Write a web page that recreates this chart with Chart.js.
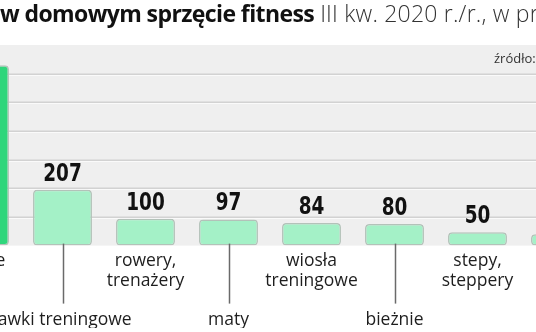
<!DOCTYPE html>
<html>
<head>
<meta charset="utf-8">
<script src="https://cdn.jsdelivr.net/npm/chart.js@4.4.0/dist/chart.umd.min.js"></script>
<style>
    html, body { margin: 0; padding: 0; background: #fff; }
    body { width: 536px; height: 332px; overflow: hidden; position: relative; }
    #title {
        position: absolute; left: 0; top: 1px; white-space: nowrap; z-index: 2;
        font-family: "Open Sans", sans-serif; font-size: 23px; line-height: 24px; color: #111;
    }
    #title b { font-weight: 700; letter-spacing: -0.6px; }
    #title span { font-weight: 300; color: #333; font-size: 23px; letter-spacing: 0.2px; }
    #source {
        position: absolute; left: 494px; top: 49px; white-space: nowrap; z-index: 2;
        font-family: "Open Sans", sans-serif; font-size: 13px; color: #333;
    }
    #wrap { position: absolute; left: -62px; top: 0; width: 664px; height: 328px; z-index: 1; }
</style>
</head>
<body>
<div id="title"><b>w domowym sprzęcie fitness</b> <span>III kw. 2020 r./r., w pr</span></div>
<div id="source">źródło:</div>
<div id="wrap"><canvas id="growthChart"></canvas></div>
<script>
    // Kategorie i wartości
    var categories = ['hantle', 'ławki treningowe', 'rowery, trenażery', 'maty', 'wiosła treningowe', 'bieżnie', 'stepy, steppery', 'inne'];
    var labelLines = [['hantle'], ['', '', '', 'ławki treningowe'], ['rowery,', 'trenażery'], ['', '', '', 'maty'],
        ['wiosła', 'treningowe'], ['', '', '', 'bieżnie'], ['stepy,', 'steppery'], ['', '', '', 'inne']];
    var values = [670, 207, 100, 97, 84, 80, 50, 42];
    var barColors = ['#2fd67b', '#a4f1c7', '#a4f1c7', '#a4f1c7', '#a4f1c7', '#a4f1c7', '#a4f1c7', '#a4f1c7'];

    var Y_MAX = 745;

    // Tło szare + linie siatki
    var backgroundPlugin = {
        id: 'greyArea',
        beforeDatasetsDraw: function (chart) {
            var ctx = chart.ctx, area = chart.chartArea, y = chart.scales.y;
            ctx.save();
            ctx.fillStyle = '#efefef';
            ctx.fillRect(area.left - 100, area.top, area.right - area.left + 200, area.bottom - area.top);
            y.ticks.forEach(function (t) {
                if (t.value <= 0 || t.value >= Y_MAX) return;
                var py = Math.round(y.getPixelForValue(t.value));
                ctx.fillStyle = '#d2d2d2';
                ctx.fillRect(area.left - 100, py - 0.5, area.right - area.left + 200, 1.5);
                ctx.fillStyle = '#fafafa';
                ctx.fillRect(area.left - 100, py + 1, area.right - area.left + 200, 1);
            });
            ctx.restore();
        }
    };

    // Wartości nad słupkami i linie prowadzące do etykiet
    var labelsPlugin = {
        id: 'barLabels',
        afterDatasetsDraw: function (chart) {
            var ctx = chart.ctx, x = chart.scales.x, area = chart.chartArea;
            var meta = chart.getDatasetMeta(0);
            ctx.save();
            ctx.strokeStyle = '#6a6a6a';
            ctx.lineWidth = 1.5;
            categories.forEach(function (c, i) {
                if (i % 2 === 1) {
                    var px = Math.round(x.getPixelForValue(i)) + 0.5;
                    ctx.beginPath();
                    ctx.moveTo(px, area.bottom - 2);
                    ctx.lineTo(px, area.bottom + 58);
                    ctx.stroke();
                }
            });
            ctx.fillStyle = '#111';
            ctx.font = 'bold 25px "DejaVu Sans Condensed", "DejaVu Sans", sans-serif';
            ctx.textAlign = 'center';
            ctx.textBaseline = 'alphabetic';
            meta.data.forEach(function (bar, i) {
                if (i === 0) return; // etykieta pierwszego słupka poza kadrem
                ctx.save();
                ctx.translate(bar.x, bar.y - 9);
                ctx.scale(0.82, 1);
                ctx.fillText(values[i], 0, 0);
                ctx.restore();
            });
            ctx.restore();
        }
    };

    new Chart(document.getElementById('growthChart').getContext('2d'), {
        type: 'bar',
        data: {
            labels: labelLines,
            datasets: [{
                data: values,
                backgroundColor: barColors,
                borderColor: '#b3c2b9',
                borderWidth: 1.5,
                borderRadius: 4,
                borderSkipped: false,
                barPercentage: 0.71,
                categoryPercentage: 1
            }]
        },
        options: {
            responsive: true,
            maintainAspectRatio: false,
            animation: false,
            layout: { padding: { top: 45, bottom: 0, left: 0, right: 0 } },
            plugins: {
                legend: { display: false },
                title: { display: false },
                tooltip: { enabled: false }
            },
            scales: {
                x: {
                    grid: { display: false },
                    border: { display: false },
                    ticks: {
                        color: '#1e1e1e',
                        padding: -2,
                        maxRotation: 0,
                        autoSkip: false,
                        font: { family: '"Open Sans", sans-serif', size: 17.5, lineHeight: 1.12 }
                    }
                },
                y: {
                    display: false,
                    min: 0,
                    max: Y_MAX,
                    ticks: { count: 8 }
                }
            }
        },
        plugins: [backgroundPlugin, labelsPlugin]
    });
</script>
</body>
</html>
